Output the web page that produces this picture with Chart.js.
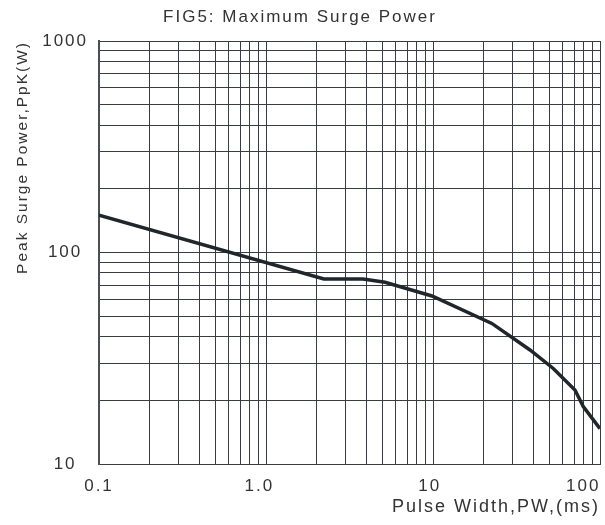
<!DOCTYPE html>
<html lang="en">
<head>
    <meta charset="UTF-8">
    <title>FIG5: Maximum Surge Power</title>
    <style>
        body { margin: 0; background: #fff; }
        #wrap { width: 605px; height: 525px; position: relative; }
    </style>
    <script src="https://cdn.jsdelivr.net/npm/chart.js"></script>
</head>
<body>
    <div id="wrap"><canvas id="surgeChart"></canvas></div>

    <script>
        // curve (log-log)
        const pulseWidth = [0.1, 2.22, 3.81, 5.16, 9.86, 22.5, 38.1, 52.5, 70.8, 79.4, 100];
        const peakPower = [150, 75, 75, 72.3, 62.3, 46.2, 34.6, 28.3, 22.4, 18.7, 14.7];

        const xLabelValues = [0.1, 1, 10, 100];
        const xTickLabels = ['0.1', '1.0', '10', '100'];
        const yLabelValues = [10, 100, 1000];
        const yTickLabels = ['10', '100', '1000'];

        const textColor = '#333333';
        const gridColor = '#383c42';
        const fontFamily = '"Liberation Sans", Arial, sans-serif';

        // log paper lines: 1..9 in every decade
        function logGrid(min, max) {
            const out = [];
            for (let d = min; d < max * 0.999; d *= 10) {
                for (let m = 1; m < 10; m++) out.push(d * m);
            }
            out.push(max);
            return out;
        }

        function findLabel(v, values, labels) {
            const i = values.findIndex(t => Math.abs(t - v) / t < 1e-6);
            return i < 0 ? '' : labels[i];
        }

        // datasheet text is letter-spaced
        const spacing = {
            id: 'spacing',
            beforeLayout(chart) { chart.ctx.letterSpacing = '2px'; },
            beforeDraw(chart) { chart.ctx.letterSpacing = '2px'; }
        };

        // nudge some x labels left the way the figure has them
        const labelPad = { '1.0': 2, '10': 1, '100': 5 };

        new Chart(document.getElementById('surgeChart'), {
            type: 'line',
            data: {
                datasets: [{
                    data: pulseWidth.map((x, i) => ({ x: x, y: peakPower[i] })),
                    borderColor: '#1f262c',
                    borderWidth: 3.5,
                    pointRadius: 0,
                    tension: 0,
                    fill: false
                }]
            },
            options: {
                responsive: true,
                maintainAspectRatio: false,
                animation: false,
                layout: { padding: { left: 0, right: 5, top: 0, bottom: 0 } },
                plugins: {
                    legend: { display: false },
                    tooltip: { enabled: false },
                    title: {
                        display: true,
                        text: 'FIG5: Maximum Surge Power',
                        color: textColor,
                        font: { family: fontFamily, size: 17, weight: 'normal' },
                        padding: { top: 7, bottom: 13.6 },
                        align: 'center'
                    }
                },
                scales: {
                    x: {
                        type: 'logarithmic',
                        min: 0.1,
                        max: 100,
                        afterBuildTicks: s => { s.ticks = logGrid(0.1, 100).map(v => ({ value: v })); },
                        afterFit: s => { s.height = 61; s.paddingLeft = 0; s.paddingRight = 0; },
                        grid: { color: gridColor, lineWidth: 1, drawTicks: false },
                        border: { display: true, color: gridColor, width: 1 },
                        ticks: {
                            autoSkip: false,
                            maxRotation: 0,
                            minRotation: 0,
                            padding: 12,
                            color: textColor,
                            font: { family: fontFamily, size: 17 },
                            callback: v => {
                                const t = findLabel(v, xLabelValues, xTickLabels);
                                return t ? t + ' '.repeat(labelPad[t] || 0) : '';
                            }
                        },
                        title: {
                            display: true,
                            text: 'Pulse Width,PW,(ms)',
                            align: 'end',
                            color: textColor,
                            font: { family: fontFamily, size: 18 },
                            padding: { top: 0, bottom: 7 }
                        }
                    },
                    y: {
                        type: 'logarithmic',
                        min: 10,
                        max: 1000,
                        afterBuildTicks: s => { s.ticks = logGrid(10, 1000).map(v => ({ value: v })); },
                        afterFit: s => { s.width = 99; s.paddingTop = 0; s.paddingBottom = 0; },
                        grid: { color: gridColor, lineWidth: 1, drawTicks: false },
                        border: { display: true, color: '#4b4f55', width: 2 },
                        ticks: {
                            autoSkip: false,
                            padding: 11,
                            crossAlign: 'center',
                            color: textColor,
                            font: { family: fontFamily, size: 17 },
                            callback: v => findLabel(v, yLabelValues, yTickLabels)
                        },
                        title: {
                            display: true,
                            text: 'Peak Surge Power,PpK(W)',
                            align: 'end',
                            color: textColor,
                            font: { family: fontFamily, size: 15.5 },
                            padding: { top: 13, bottom: 0 }
                        }
                    }
                }
            },
            plugins: [spacing]
        });
    </script>
</body>
</html>
